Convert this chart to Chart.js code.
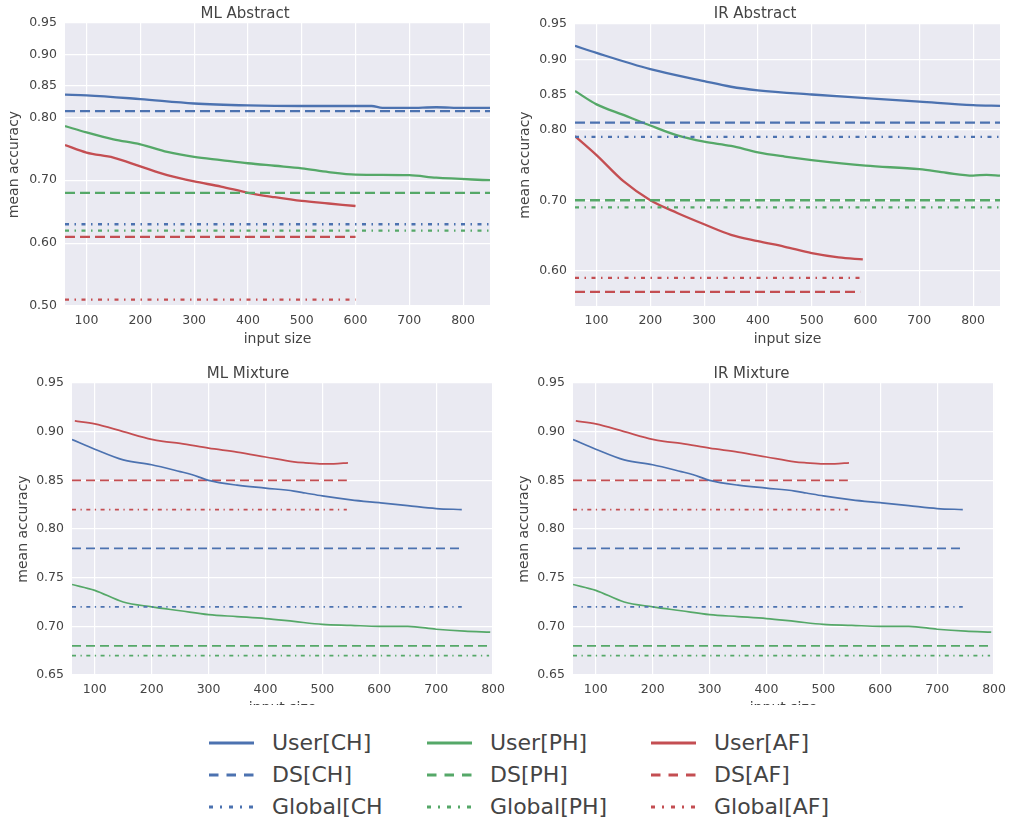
<!DOCTYPE html>
<html>
<head>
<meta charset="utf-8">
<script src="https://cdn.jsdelivr.net/npm/chart.js@4"></script>
<style>
body { margin: 0; background: #fff; width: 1013px; height: 823px; position: relative; overflow: hidden; font-family: 'DejaVu Sans', sans-serif; }
.panel { position: absolute; overflow: hidden; }
.leg { position: absolute; height: 30px; line-height: 30px; font-size: 22px; color: #444; white-space: nowrap; }
.leg svg { position: absolute; left: 0; top: 12px; }
.leg span { position: absolute; left: 63px; top: 0; }
</style>
</head>
<body>
<div class="panel" style="left:0;top:0;width:500px;height:352px"><canvas id="mlAbstract" width="500" height="352"></canvas></div>
<div class="panel" style="left:510px;top:0;width:503px;height:352px"><canvas id="irAbstract" width="500" height="352"></canvas></div>
<div class="panel" style="left:0;top:360px;width:512px;height:345px"><canvas id="mlMixture" width="512" height="361"></canvas></div>
<div class="panel" style="left:505px;top:360px;width:508px;height:345px"><canvas id="irMixture" width="508" height="361"></canvas></div>
<div id="legend"></div>

<script>
// ---- data ----
var xTicks = [100, 200, 300, 400, 500, 600, 700, 800];
var yTicksAbsML = [0.95, 0.90, 0.85, 0.80, 0.70, 0.60, 0.50];
var yTicksAbsIR = [0.95, 0.90, 0.85, 0.80, 0.70, 0.60];
var yTicksMix = [0.95, 0.90, 0.85, 0.80, 0.75, 0.70, 0.65];

// ML Abstract
var mlAbsCH_x = [60, 100, 200, 300, 400, 500, 600, 630, 650, 700, 750, 800, 850];
var mlAbsCH_y = [0.836, 0.835, 0.829, 0.822, 0.819, 0.818, 0.818, 0.818, 0.815, 0.815, 0.816, 0.815, 0.815];
var mlAbsPH_x = [60, 100, 150, 200, 250, 300, 350, 400, 450, 500, 550, 600, 700, 750, 850];
var mlAbsPH_y = [0.786, 0.776, 0.765, 0.757, 0.745, 0.737, 0.732, 0.727, 0.723, 0.719, 0.713, 0.709, 0.708, 0.704, 0.700];
var mlAbsAF_x = [60, 100, 150, 200, 250, 300, 350, 400, 450, 500, 550, 600];
var mlAbsAF_y = [0.756, 0.744, 0.736, 0.722, 0.708, 0.698, 0.690, 0.680, 0.673, 0.667, 0.663, 0.659];
var mlAbsDS = [0.81, 0.68, 0.61];       // CH, PH, AF
var mlAbsGlobal = [0.63, 0.62, 0.51];   // CH, PH, AF
var mlAbsEnd = [850, 850, 600];

// IR Abstract
var irAbsCH_x = [60, 100, 200, 300, 350, 400, 500, 600, 700, 800, 850];
var irAbsCH_y = [0.919, 0.909, 0.886, 0.869, 0.861, 0.856, 0.850, 0.845, 0.840, 0.835, 0.834];
var irAbsPH_x = [60, 100, 150, 200, 250, 300, 350, 400, 450, 500, 600, 700, 750, 800, 825, 850];
var irAbsPH_y = [0.855, 0.836, 0.821, 0.806, 0.792, 0.783, 0.777, 0.768, 0.762, 0.757, 0.749, 0.744, 0.739, 0.735, 0.736, 0.735];
var irAbsAF_x = [60, 100, 150, 200, 250, 300, 350, 400, 450, 500, 550, 595];
var irAbsAF_y = [0.791, 0.764, 0.727, 0.700, 0.682, 0.666, 0.651, 0.642, 0.634, 0.625, 0.619, 0.616];
var irAbsDS = [0.81, 0.70, 0.57];
var irAbsGlobal = [0.79, 0.69, 0.59];
var irAbsEnd = [850, 850, 590];

// Mixture (ML and IR panels show the same curves)
var mixCH_x = [60, 100, 150, 200, 250, 270, 300, 350, 400, 450, 470, 500, 550, 600, 650, 700, 745];
var mixCH_y = [0.892, 0.882, 0.871, 0.866, 0.859, 0.856, 0.850, 0.845, 0.842, 0.839, 0.837, 0.834, 0.830, 0.827, 0.824, 0.821, 0.820];
var mixPH_x = [60, 100, 150, 200, 250, 300, 350, 400, 450, 500, 550, 600, 650, 700, 750, 795];
var mixPH_y = [0.743, 0.737, 0.725, 0.720, 0.716, 0.712, 0.710, 0.708, 0.705, 0.702, 0.701, 0.700, 0.700, 0.697, 0.695, 0.694];
var mixAF_x = [65, 100, 150, 200, 220, 250, 300, 350, 400, 450, 470, 500, 520, 545];
var mixAF_y = [0.911, 0.908, 0.900, 0.892, 0.890, 0.888, 0.883, 0.879, 0.874, 0.869, 0.868, 0.867, 0.867, 0.868];
var mixDS = [0.78, 0.68, 0.85];
var mixGlobal = [0.72, 0.67, 0.82];
var mixEnd = [745, 793, 543];

var groups = ['CH', 'PH', 'AF'];
var colors = ['#4c72b0', '#55a868', '#c44e52'];

Chart.defaults.font.family = "'DejaVu Sans', sans-serif";
Chart.defaults.color = '#444';

function pts(xs, ys) {
	var out = [];
	for (var i = 0; i < xs.length; i++) out.push({ x: xs[i], y: ys[i] });
	return out;
}

var plotBg = {
	id: 'plotBg',
	beforeDraw: function (chart) {
		var a = chart.chartArea;
		var ctx = chart.ctx;
		ctx.save();
		ctx.fillStyle = '#eaeaf2';
		ctx.fillRect(a.left, a.top, a.right - a.left, a.bottom - a.top);
		ctx.restore();
	}
};

function makePanel(id, p) {
	var datasets = [];
	for (var g = 0; g < 3; g++) {
		datasets.push({
			label: 'User[' + groups[g] + ']',
			data: pts(p.user[g][0], p.user[g][1]),
			borderColor: colors[g],
			borderWidth: p.lw,
			cubicInterpolationMode: 'monotone'
		});
		datasets.push({
			label: 'DS[' + groups[g] + ']',
			data: pts([60, p.end[g]], [p.ds[g], p.ds[g]]),
			borderColor: colors[g],
			borderWidth: p.lw,
			borderDash: p.dash
		});
		datasets.push({
			label: 'Global[' + groups[g] + ']',
			data: pts([60, p.end[g]], [p.global[g], p.global[g]]),
			borderColor: colors[g],
			borderWidth: p.lw,
			borderDash: p.dashdot
		});
	}
	var ctx = document.getElementById(id).getContext('2d');
	return new Chart(ctx, {
		type: 'line',
		data: { datasets: datasets },
		plugins: [plotBg],
		options: {
			responsive: false,
			animation: false,
			devicePixelRatio: 1,
			layout: { padding: { left: 0, right: p.padRight, top: 0, bottom: 0 } },
			elements: { point: { radius: 0 }, line: { borderCapStyle: 'butt' } },
			plugins: {
				legend: { display: false },
				tooltip: { enabled: false },
				title: {
					display: true,
					text: p.title,
					color: '#444',
					font: { size: 15, weight: 'normal' },
					padding: { top: p.titleTop, bottom: p.plotTop - 18 - p.titleTop }
				}
			},
			scales: {
				x: {
					type: 'linear',
					min: p.xMin,
					max: p.xMax,
					afterBuildTicks: function (s) { s.ticks = xTicks.map(function (v) { return { value: v }; }); },
					afterFit: function (s) { s.height = 46; },
					grid: { color: '#ffffff', lineWidth: 1.2, drawTicks: false },
					border: { display: false },
					ticks: { autoSkip: false, maxRotation: 0, padding: 7, font: { size: 12.5 }, color: '#444' },
					title: { display: true, text: 'input size', font: { size: 14 }, color: '#444', padding: { top: 0, bottom: 4 } }
				},
				y: {
					min: p.yMin,
					max: p.yMax,
					afterBuildTicks: function (s) { s.ticks = p.yTicks.map(function (v) { return { value: v }; }); },
					afterFit: function (s) { s.width = p.yWidth; },
					grid: { color: '#ffffff', lineWidth: 1.2, drawTicks: false },
					border: { display: false },
					ticks: {
						autoSkip: false, padding: 8, font: { size: 12.5 }, color: '#444',
						callback: function (v) { return Number(v).toFixed(2); }
					},
					title: { display: true, text: 'mean accuracy', font: { size: 14 }, color: '#444', padding: { top: p.yTitlePad, bottom: 0 } }
				}
			}
		}
	});
}

makePanel('mlAbstract', {
	title: 'ML Abstract', xMin: 60, xMax: 850, yMin: 0.50, yMax: 0.95, yTicks: yTicksAbsML,
	user: [[mlAbsCH_x, mlAbsCH_y], [mlAbsPH_x, mlAbsPH_y], [mlAbsAF_x, mlAbsAF_y]],
	ds: mlAbsDS, global: mlAbsGlobal, end: mlAbsEnd,
	lw: 2.3, dash: [10, 5], dashdot: [4, 5.5, 1.5, 5.5],
	yWidth: 65, padRight: 10, titleTop: 5, plotTop: 23, yTitlePad: 5.6
});
makePanel('irAbstract', {
	title: 'IR Abstract', xMin: 60, xMax: 850, yMin: 0.55, yMax: 0.95, yTicks: yTicksAbsIR,
	user: [[irAbsCH_x, irAbsCH_y], [irAbsPH_x, irAbsPH_y], [irAbsAF_x, irAbsAF_y]],
	ds: irAbsDS, global: irAbsGlobal, end: irAbsEnd,
	lw: 2.3, dash: [10, 5], dashdot: [4, 5.5, 1.5, 5.5],
	yWidth: 65, padRight: 10, titleTop: 5, plotTop: 24, yTitlePad: 6.6
});
makePanel('mlMixture', {
	title: 'ML Mixture', xMin: 60, xMax: 800, yMin: 0.65, yMax: 0.95, yTicks: yTicksMix,
	user: [[mixCH_x, mixCH_y], [mixPH_x, mixPH_y], [mixAF_x, mixAF_y]],
	ds: mixDS, global: mixGlobal, end: mixEnd,
	lw: 1.7, dash: [9, 5], dashdot: [4, 4.5, 1.3, 4.5],
	yWidth: 72, padRight: 16, titleTop: 5, plotTop: 23, yTitlePad: 14.6
});
makePanel('irMixture', {
	title: 'IR Mixture', xMin: 60, xMax: 800, yMin: 0.65, yMax: 0.95, yTicks: yTicksMix,
	user: [[mixCH_x, mixCH_y], [mixPH_x, mixPH_y], [mixAF_x, mixAF_y]],
	ds: mixDS, global: mixGlobal, end: mixEnd,
	lw: 1.7, dash: [9, 5], dashdot: [4, 4.5, 1.3, 4.5],
	yWidth: 68, padRight: 15, titleTop: 5, plotTop: 23, yTitlePad: 10.6
});

// ---- legend (figure-level, below the panels) ----
var legendCols = [209, 427, 651];
var legendRows = [728, 760, 792];
var legendNames = [['User[CH]', 'DS[CH]', 'Global[CH'], ['User[PH]', 'DS[PH]', 'Global[PH]'], ['User[AF]', 'DS[AF]', 'Global[AF]']];
var legendDash = ['', '9.5 8', '4 7 2 7'];
var html = '';
for (var c = 0; c < 3; c++) {
	for (var r = 0; r < 3; r++) {
		html += '<div class="leg" style="left:' + legendCols[c] + 'px;top:' + legendRows[r] + 'px">' +
			'<svg width="46" height="6"><line x1="0" y1="3" x2="45" y2="3" stroke="' + colors[c] + '" stroke-width="3"' +
			(legendDash[r] ? ' stroke-dasharray="' + legendDash[r] + '"' : '') + '/></svg>' +
			'<span>' + legendNames[c][r] + '</span></div>';
	}
}
document.getElementById('legend').innerHTML = html;
</script>
</body>
</html>
